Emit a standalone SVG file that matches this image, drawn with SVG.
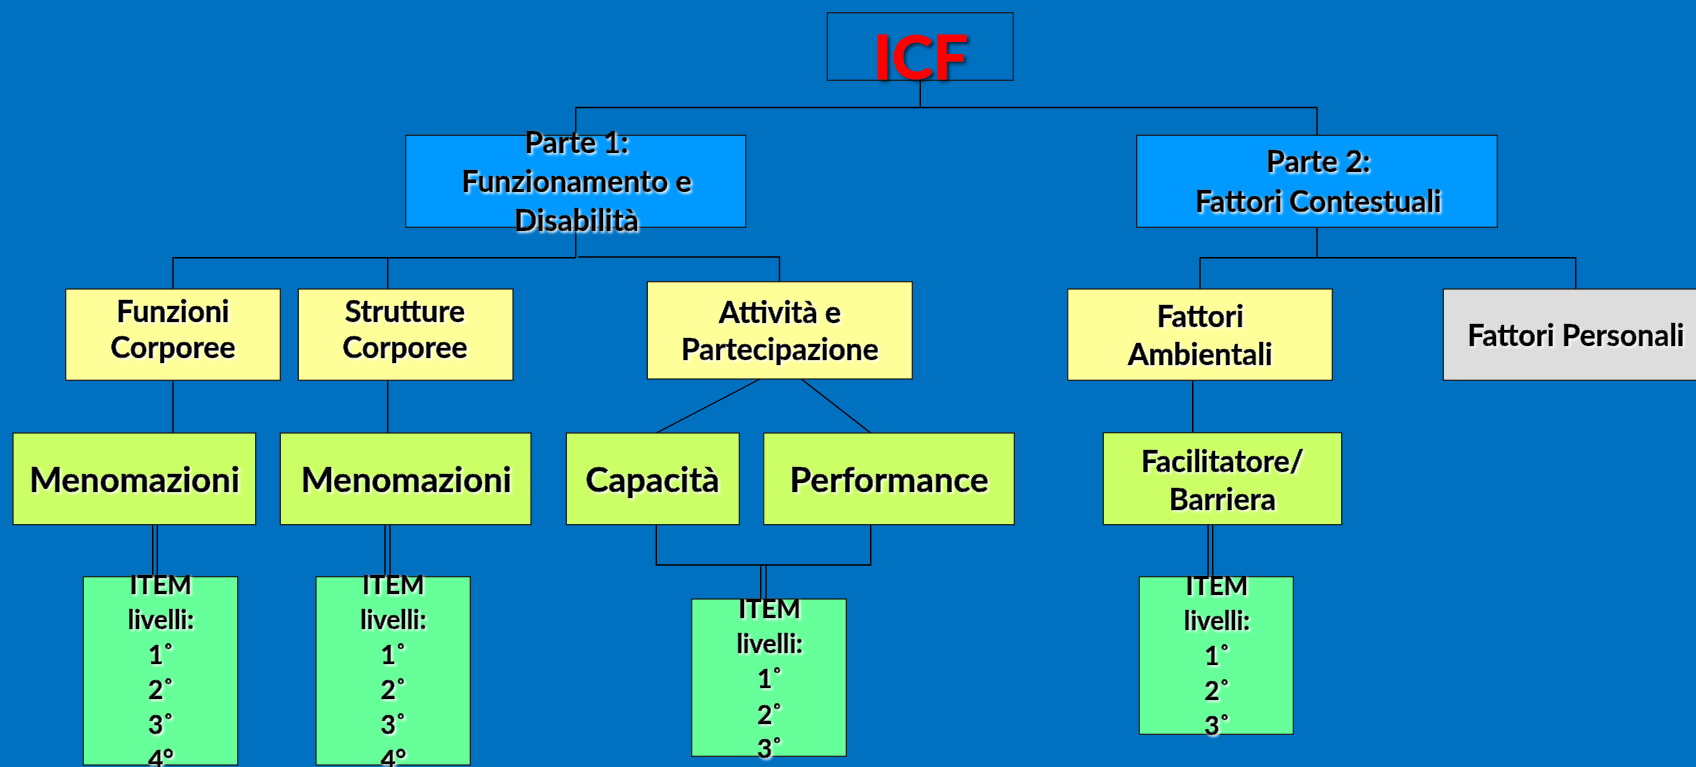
<svg xmlns="http://www.w3.org/2000/svg" width="1696" height="767" viewBox="0 0 1696 767">
  <style>
    .bg { fill: #0070C0; }
    .box { stroke: #1a1a1a; stroke-width: 1.2; }
    .root { fill: none; }
    .part { fill: #0099FF; }
    .comp { fill: #FFFF99; }
    .qual { fill: #CCFF66; }
    .item { fill: #66FF99; }
    .pers { fill: #DDDDDD; }
    .wire { fill: none; stroke: #000; stroke-width: 1.4; }
    text { font-family: Lato, "Liberation Sans", Arial, sans-serif; font-weight: bold; fill: #000; stroke: #000; stroke-width: 0.7px; text-anchor: middle; filter: url(#halo); }
    .t24 { font-size: 30px; }
    .t28 { font-size: 34.8px; }
    .t21 { font-size: 25.8px; }
    .title { font-size: 62px; fill: #FF0000; stroke: #FF0000; stroke-width: 1px; filter: url(#shade); }
  </style>
  <defs>
    <filter id="halo" x="-10%" y="-20%" width="130%" height="150%">
      <feDropShadow dx="1.6" dy="1.6" stdDeviation="0.9" flood-color="#FFFFFF" flood-opacity="0.9"/>
    </filter>
    <filter id="shade" x="-10%" y="-20%" width="130%" height="150%">
      <feDropShadow dx="2.5" dy="2.5" stdDeviation="1.5" flood-color="#000000" flood-opacity="0.6"/>
    </filter>
  </defs>

  <rect class="bg" x="0" y="0" width="1696" height="767"/>

  <!-- connectors -->
  <g id="connectors">
    <path class="wire" d="M920.3,80.3 V107.5 M575.7,107.5 H1317 M575.7,107.5 V257.7 M1317,107.5 V135.3"/>
    <path class="wire" d="M575.7,257.7 H173 V289 M387.7,257.7 V289"/>
    <path class="wire" d="M578.3,257 H779.5 V281.7"/>
    <path class="wire" d="M1317,227.3 V257.7 M1200,257.7 H1575.7 V289 M1200,257.7 V289"/>
    <path class="wire" d="M173,380.3 V433 M387.7,380.3 V433"/>
    <path class="wire" d="M760,379 L656.3,433 M801.3,379 L870.7,433"/>
    <path class="wire" d="M656.3,524.7 V565 H870.7 V524.7"/>
    <path class="wire" d="M1192.7,380.3 V432.7"/>
    <path class="wire" d="M152.7,524.7 V576.7 M157.3,524.7 V576.7"/>
    <path class="wire" d="M385,524.7 V576.7 M390,524.7 V576.7"/>
    <path class="wire" d="M760.7,565 V599 M766,565 V599"/>
    <path class="wire" d="M1208,524.7 V576.7 M1212.7,524.7 V576.7"/>
  </g>

  <g id="icf">
    <rect class="box root" x="827.3" y="12.7" width="186" height="67.6"/>
    <text class="title" x="920.5" y="79">ICF</text>
  </g>

  <g id="parte1">
    <rect class="box part" x="405.7" y="135.3" width="340" height="92"/>
    <text class="t24" x="576.5" y="153">Parte 1:</text>
    <text class="t24" x="576.5" y="192">Funzionamento e</text>
    <text class="t24" x="576.5" y="231">Disabilità</text>
  </g>

  <g id="parte2">
    <rect class="box part" x="1136.7" y="135.3" width="360.6" height="92"/>
    <text class="t24" x="1318.3" y="171.5">Parte 2:</text>
    <text class="t24" x="1318.3" y="212">Fattori Contestuali</text>
  </g>

  <g id="funzioni">
    <rect class="box comp" x="65.7" y="289" width="214.6" height="91.3"/>
    <text class="t24" x="173" y="321.5">Funzioni</text>
    <text class="t24" x="173" y="358">Corporee</text>
  </g>

  <g id="strutture">
    <rect class="box comp" x="298.3" y="289" width="214.7" height="91.3"/>
    <text class="t24" x="405" y="321.5">Strutture</text>
    <text class="t24" x="405" y="358">Corporee</text>
  </g>

  <g id="attivita">
    <rect class="box comp" x="647.3" y="281.7" width="265" height="97.3"/>
    <text class="t24" x="780" y="323">Attività e</text>
    <text class="t24" x="780" y="360">Partecipazione</text>
  </g>

  <g id="ambientali">
    <rect class="box comp" x="1067.7" y="289" width="264.6" height="91.3"/>
    <text class="t24" x="1200.3" y="327">Fattori</text>
    <text class="t24" x="1200.3" y="364.5">Ambientali</text>
  </g>

  <g id="personali">
    <rect class="box pers" x="1443.3" y="289" width="264" height="91.3"/>
    <text class="t24" x="1576" y="346">Fattori Personali</text>
  </g>

  <g id="menomazioni-funzioni">
    <rect class="box qual" x="13" y="433" width="242.7" height="91.7"/>
    <text class="t28" x="134.5" y="491.5">Menomazioni</text>
  </g>

  <g id="menomazioni-strutture">
    <rect class="box qual" x="280.3" y="433" width="250.7" height="91.7"/>
    <text class="t28" x="406.3" y="491.5">Menomazioni</text>
  </g>

  <g id="capacita">
    <rect class="box qual" x="566.3" y="433" width="173" height="91.7"/>
    <text class="t28" x="652.6" y="491.5">Capacità</text>
  </g>

  <g id="performance">
    <rect class="box qual" x="763.7" y="433" width="250.6" height="91.7"/>
    <text class="t28" x="889.2" y="491.5">Performance</text>
  </g>

  <g id="facilitatore">
    <rect class="box qual" x="1103.3" y="432.7" width="238.4" height="92"/>
    <text class="t24" x="1222.4" y="471.5">Facilitatore/</text>
    <text class="t24" x="1222.4" y="510">Barriera</text>
  </g>

  <g id="item-funzioni">
    <rect class="box item" x="83.3" y="576.7" width="154.4" height="188.3"/>
    <text class="t21" x="160.8" y="594">ITEM</text>
    <text class="t21" x="160.8" y="629">livelli:</text>
    <text class="t21" x="161" y="664">1˚</text>
    <text class="t21" x="161" y="699">2˚</text>
    <text class="t21" x="161" y="734">3˚</text>
    <text class="t21" x="161" y="769">4°</text>
  </g>

  <g id="item-strutture">
    <rect class="box item" x="316" y="576.7" width="154.3" height="188.3"/>
    <text class="t21" x="393.3" y="594">ITEM</text>
    <text class="t21" x="393.3" y="629">livelli:</text>
    <text class="t21" x="393.5" y="664">1˚</text>
    <text class="t21" x="393.5" y="699">2˚</text>
    <text class="t21" x="393.5" y="734">3˚</text>
    <text class="t21" x="393.5" y="769">4°</text>
  </g>

  <g id="item-attivita">
    <rect class="box item" x="691.7" y="599" width="154.6" height="157.3"/>
    <text class="t21" x="769.6" y="618">ITEM</text>
    <text class="t21" x="769.6" y="653">livelli:</text>
    <text class="t21" x="769.8" y="688">1˚</text>
    <text class="t21" x="769.8" y="723.5">2˚</text>
    <text class="t21" x="769.8" y="758">3˚</text>
  </g>

  <g id="item-ambientali">
    <rect class="box item" x="1139.3" y="576.7" width="154" height="157.6"/>
    <text class="t21" x="1217" y="595">ITEM</text>
    <text class="t21" x="1217" y="630">livelli:</text>
    <text class="t21" x="1217.2" y="665">1˚</text>
    <text class="t21" x="1217.2" y="700">2˚</text>
    <text class="t21" x="1217.2" y="735">3˚</text>
  </g>
</svg>
